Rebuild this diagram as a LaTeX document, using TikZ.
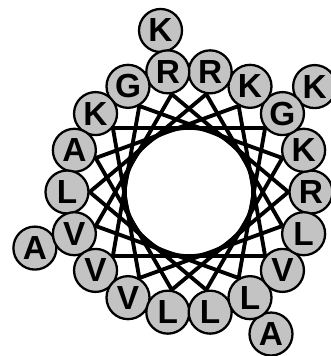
\documentclass[tikz,border=0pt]{standalone}
\usepackage{fontspec}
\setmainfont{Liberation Sans}
\usetikzlibrary{backgrounds}
\definecolor{dotgray}{RGB}{195,195,195}
\tikzset{
  residue/.style={circle,draw=black,line width=1.3pt,fill=dotgray,
                  minimum size=0.86cm,inner sep=0pt,
                  font=\fontsize{19}{19}\selectfont\bfseries},
  bond/.style={line width=2.2pt,black},
}

\begin{document}
\begin{tikzpicture}
  \useasboundingbox (-3.78,-3.28) rectangle (2.84,3.84);
  % second turn, outside the wheel
  \foreach \i/\l in {5/K,2/K,10/A,15/A}{
    \node[residue] (q\i) at (\i*20:3.28) {\l};
  }
  % first turn
  \foreach \i/\l in {0/R,1/K,2/G,3/K,4/R,5/R,6/G,7/K,8/A,
                     9/L,10/V,11/V,12/V,13/L,14/L,15/L,16/V,17/L}{
    \node[residue] (p\i) at (\i*20:2.44) {\l};
  }
  \begin{scope}[on background layer]
    \draw[line width=2.6pt] (0,0) circle (1.29);
    \foreach \i in {0,...,17}{
      \pgfmathtruncatemacro{\j}{mod(\i+5,18)}
      \pgfmathtruncatemacro{\a}{mod(\i*20+180,360)}
      \pgfmathtruncatemacro{\b}{mod(\j*20+180,360)}
      \draw[bond] (p\i.\a) -- (p\j.\b);
    }
  \end{scope}
\end{tikzpicture}
\end{document}
